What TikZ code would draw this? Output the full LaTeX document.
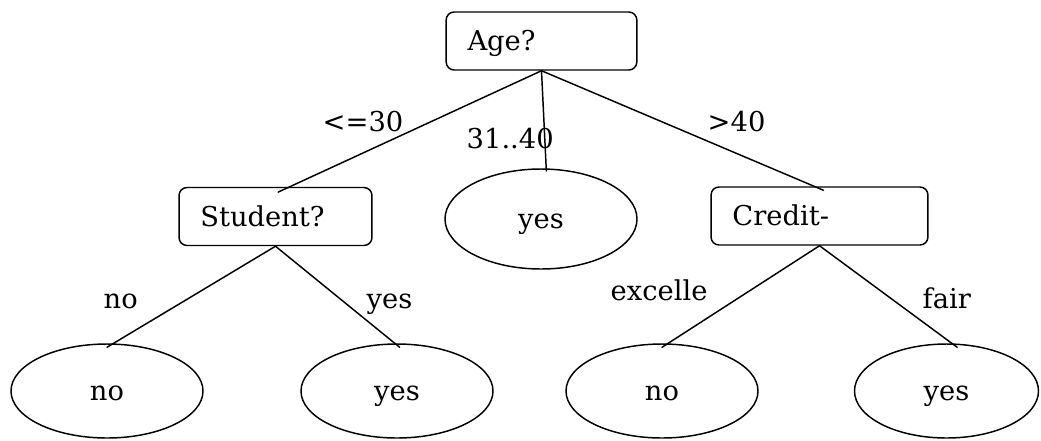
\documentclass[tikz,border=0pt]{standalone}
\usepackage{fontspec}
\setmainfont{DejaVu Serif}
\usetikzlibrary{shapes.geometric}
\tikzset{
    test/.style={draw, rounded corners=6pt, align=left, inner xsep=16pt, minimum height=43.5pt, text height=14.5pt, text depth=0pt},
    leaf/.style={draw, ellipse, minimum width=144pt, minimum height=70.5pt, inner sep=0pt, text height=14.5pt, text depth=0pt},
    branch/.style={anchor=base west, inner sep=0pt}
}
\begin{document}
\begin{tikzpicture}[x=0.75pt, y=-0.75pt, font=\fontsize{20.5}{24}\selectfont, line join=round, line cap=round, line width=1.1pt]
            \useasboundingbox (0,0) rectangle (1041,440);
            % tests
            \node[test, text width=111pt] (age) at (541.5,41) {Age?};
            \node[test, text width=112.7pt] (student) at (275.5,216.5) {Student?};
            \node[test, text width=130.7pt] (credit) at (819.5,216) {Credit-};
            % leaves
            \node[leaf, minimum height=75pt] (mid) at (541,219) {yes};
            \node[leaf] (sno) at (107,391) {no};
            \node[leaf] (syes) at (397,391) {yes};
            \node[leaf] (cno) at (662,391) {no};
            \node[leaf, minimum width=138pt] (cyes) at (946.5,391) {yes};
            % branches
            \draw (age.south) -- ([xshift=2pt, yshift=-4pt]student.north);
            \draw (age.south) -- ([xshift=4pt, yshift=-2pt]mid.north);
            \draw (age.south) -- ([xshift=3pt, yshift=-3pt]credit.north);
            \draw (student.south) -- ([yshift=-3pt]sno.north);
            \draw (student.south) -- ([xshift=2pt, yshift=-3pt]syes.north);
            \draw (credit.south) -- ([yshift=-3pt]cno.north);
            \draw (credit.south) -- ([xshift=8pt, yshift=-3pt]cyes.north);
            % branch labels
            \node[branch] (l1) at (322,131) {<=30};
            \node[branch] (l2) at (466,148) {31..40};
            \node[branch] (l3) at (707,131) {>40};
            \node[branch] (l4) at (103,308) {no};
            \node[branch] (l5) at (366,308) {yes};
            \node[branch] (l6) at (610,300) {excelle};
            \node[branch] (l7) at (922,308) {fair};
    \end{tikzpicture}
\end{document}
